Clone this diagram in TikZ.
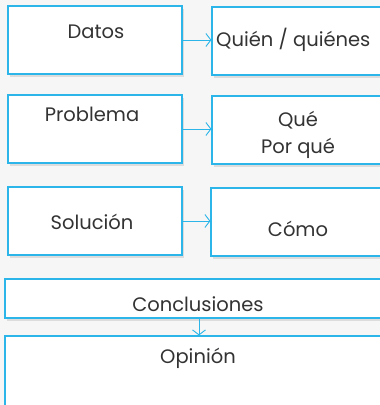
\documentclass[tikz,border=0pt]{standalone}
\usepackage{fontspec}
\setmainfont{Poppins}
\usepackage{xcolor}
\usepackage{tikz}
\usetikzlibrary{positioning,arrows.meta,shadows}
\definecolor{frame}{HTML}{2BB5E8}
\definecolor{ink}{HTML}{333333}
\definecolor{paper}{HTML}{F6F6F6}
\tikzset{
  % --- boxes -----------------------------------------------------------------
  box/.style={rectangle,draw=frame,line width=1.1pt,fill=white,
              drop shadow={opacity=0.22,shadow xshift=1.5pt,shadow yshift=-3pt}},
  halfbox/.style={box,minimum width=174pt,minimum height=68pt},
  widebox/.style={box,minimum width=390pt},
  % --- texts -----------------------------------------------------------------
  lbl/.style={font=\fontsize{19.5}{23}\selectfont,text=ink,inner sep=0pt},
  % --- links -----------------------------------------------------------------
  link/.style={-{Straight Barb[length=5pt,width=13pt]},draw=frame,line width=0.9pt},
}
\begin{document}
\begin{tikzpicture}[x=1pt, y=-1pt]
  \useasboundingbox[fill=paper] (0,0) rectangle (380,405);

  \node[halfbox] (datos)  at (95,40)   {};
  \node[halfbox] (quien)  at (299,41)  {};
  \node[halfbox] (probl)  at (95,129)  {};
  \node[halfbox] (que)    at (299,130) {};
  \node[halfbox] (soluc)  at (95,221)  {};
  \node[halfbox] (como)   at (298,222) {};
  \node[widebox,minimum height=39pt] (concl) at (200,298.5) {};
  \node[widebox,minimum height=90pt] (opin)  at (200,381)   {};

  \node[lbl] at (96,32)   {Datos};
  \node[lbl,anchor=west] at (216,40) {Quién / quiénes};
  \node[lbl] at (92,114)  {Problema};
  \node[lbl] at (298,120) {Qué};
  \node[lbl] at (298,148) {Por qué};
  \node[lbl] at (92,222)  {Solución};
  \node[lbl] at (298,229) {Cómo};
  \node[lbl] at (198,304) {Conclusiones};
  \node[lbl] at (198,358) {Opinión};

  \draw[link] (datos.east) -- (datos.east -| quien.west);
  \draw[link] (probl.east) -- (probl.east -| que.west);
  \draw[link] (soluc.east) -- (soluc.east -| como.west);
  \draw[link] (concl.south -| 199,0) -- (opin.north -| 199,0);
\end{tikzpicture}
\end{document}
